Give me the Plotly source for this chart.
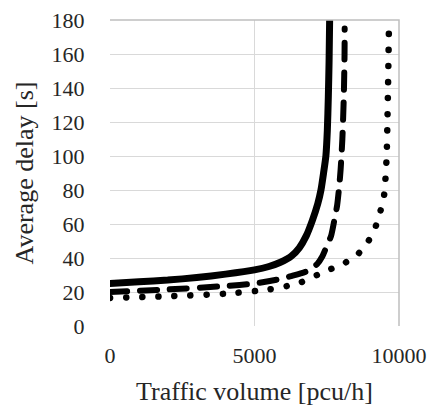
import plotly.graph_objects as go

# Solid series
solid_x = [0, 1000, 2000, 3000, 4000, 5000, 5500, 5900, 6270, 6550, 6790, 7000, 7190, 7300, 7390, 7470, 7520, 7555, 7580, 7600]
solid_y = [25, 26, 27, 28.5, 30.5, 33, 35, 37.5, 41, 46, 53, 62, 72, 80, 90, 100, 115, 135, 155, 180]

# Dashed series
dash_x = [0, 2000, 4000, 5000, 5850, 6300, 6860, 7170, 7350, 7500, 7650, 7760, 7860, 7930, 7980, 8040, 8090, 8116, 8120]
dash_y = [20, 21.5, 23.5, 25, 27.5, 29.5, 32.5, 36.5, 41, 47, 53, 62, 71, 82, 92, 110, 135, 160, 175]

# Dotted series
dot_x = [0, 2000, 4000, 5500, 6500, 7420, 8000, 8500, 8870, 9160, 9330, 9470, 9525, 9560, 9580, 9620, 9650]
dot_y = [16.5, 17.5, 19, 21.5, 25, 32, 36, 41, 48, 57, 66, 75, 85, 95, 104, 140, 174]

x_ticks = [0, 5000, 10000]
y_ticks = list(range(0, 181, 20))

fig = go.Figure()
fig.add_trace(go.Scatter(x=dot_x, y=dot_y, mode="lines", line=dict(color="black", width=6.5, dash="0.1px,16px", shape="spline", smoothing=0.6)))
fig.add_trace(go.Scatter(x=dash_x, y=dash_y, mode="lines", line=dict(color="black", width=6, dash="17px,13px", shape="spline", smoothing=0.6)))
fig.add_trace(go.Scatter(x=solid_x, y=solid_y, mode="lines", line=dict(color="black", width=7, shape="spline", smoothing=0.6)))

font = dict(family="Liberation Serif, Times New Roman, serif", size=22, color="#262626")

fig.update_layout(
    width=432, height=406,
    margin=dict(l=110, r=33, t=20, b=80),
    paper_bgcolor="white", plot_bgcolor="white",
    showlegend=False,
    font=font,
    xaxis=dict(range=[0, 10000], tickvals=x_ticks, ticktext=[str(v) for v in x_ticks],
               showgrid=True, gridcolor="#d9d9d9", gridwidth=1, zeroline=False,
               ticks="outside", ticklen=10, tickcolor="rgba(0,0,0,0)", automargin=False,
               title=dict(text="Traffic volume [pcu/h]", standoff=16), fixedrange=True),
    yaxis=dict(range=[0, 180], tickvals=y_ticks, showgrid=True, gridcolor="#d9d9d9", gridwidth=1,
               zeroline=False, ticks="outside", ticklen=20, tickcolor="rgba(0,0,0,0)", automargin=False,
               title=dict(text="Average delay [s]", standoff=10), fixedrange=True),
    shapes=[dict(type="path", xref="paper", yref="paper", path="M 0 1 L 1 1 L 1 0",
                 line=dict(color="#bfbfbf", width=1.5))],
)

post = """
document.body.style.margin='0';
document.querySelectorAll('.scatterlayer path.js-line').forEach(function(p){p.style.strokeLinecap='round';});
"""
fig.write_html("out.html", post_script=post, config={"displayModeBar": False})
